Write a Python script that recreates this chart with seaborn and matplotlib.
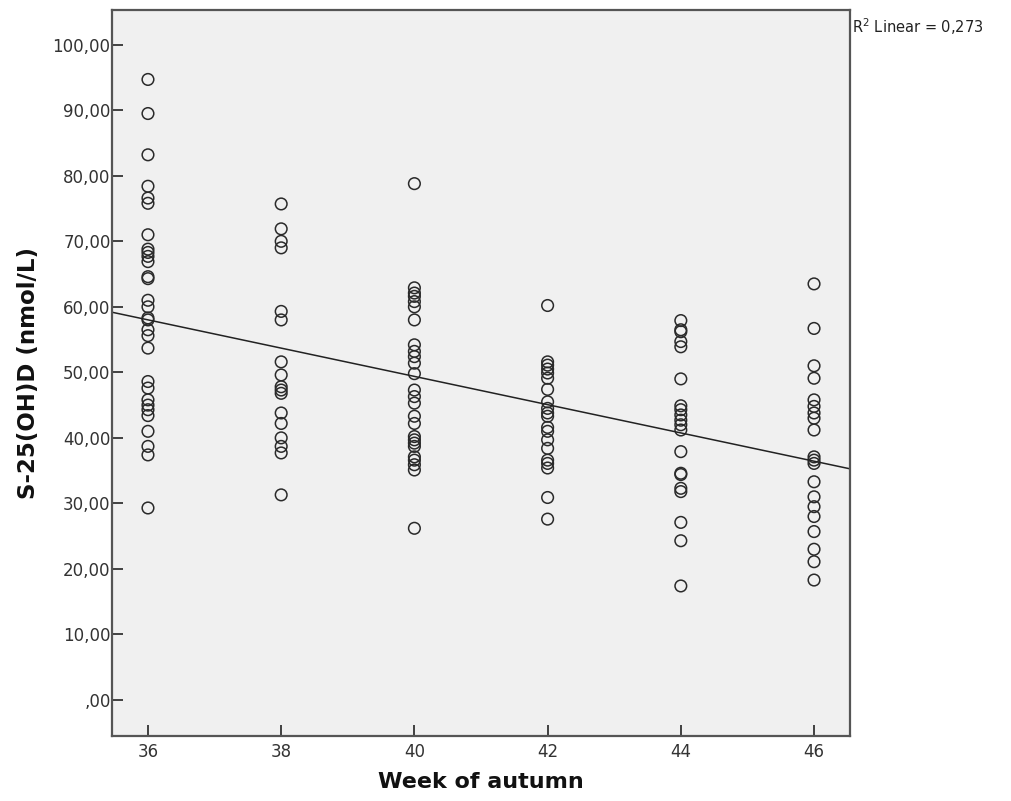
import numpy as np
import pandas as pd
import seaborn as sns
import matplotlib.pyplot as plt
from matplotlib.ticker import FuncFormatter

# Values, one list per week
week_36 = [94.7, 89.5, 83.2, 78.4, 76.6, 75.8, 71.0, 68.8, 68.3, 67.7, 66.9,
           64.6, 64.3, 61.0, 60.0, 58.3, 58.0, 56.5, 55.6, 53.7, 48.6, 47.6,
           45.8, 45.0, 44.3, 43.4, 41.0, 38.7, 37.4, 29.3]
week_38 = [75.7, 71.9, 70.0, 69.0, 59.3, 58.0, 51.6, 49.6, 47.8, 47.3, 46.8,
           43.8, 42.2, 40.0, 38.7, 37.7, 31.3]
week_40 = [78.8, 62.9, 62.1, 61.6, 60.8, 60.0, 58.0, 54.2, 53.2, 52.4, 51.4,
           49.8, 47.3, 46.3, 45.3, 43.3, 42.2, 40.2, 39.7, 39.2, 38.7, 37.1,
           36.6, 35.9, 35.1, 26.2]
week_42 = [60.2, 51.6, 51.1, 50.5, 49.9, 49.1, 47.4, 45.5, 44.5, 43.8, 43.3,
           41.6, 41.0, 39.7, 38.4, 36.6, 36.1, 35.4, 30.9, 27.6]
week_44 = [57.9, 56.5, 56.2, 54.7, 53.9, 49.0, 44.9, 44.3, 43.5, 42.7, 42.0,
           41.2, 37.9, 34.6, 34.4, 32.3, 31.8, 27.1, 24.3, 17.4]
week_46 = [63.5, 56.7, 51.0, 49.1, 45.8, 44.8, 43.8, 43.0, 41.2, 37.1, 36.6,
           36.1, 33.3, 31.0, 29.5, 28.0, 25.7, 23.0, 21.1, 18.3]

weeks = [36, 38, 40, 42, 44, 46]
columns = [week_36, week_38, week_40, week_42, week_44, week_46]
y_ticks = [0, 10, 20, 30, 40, 50, 60, 70, 80, 90, 100]

df = pd.DataFrame({
    'week': np.concatenate([[w] * len(c) for w, c in zip(weeks, columns)]),
    'vitd': np.concatenate(columns),
})

sns.set_style('white')
plt.rcParams['font.family'] = ['DejaVu Sans']

fig = plt.figure(figsize=(10.12, 8.01), dpi=100)
ax = fig.add_axes([112 / 1012, 65 / 801, 738 / 1012, 726 / 801])
ax.set_facecolor('#f0f0f0')

ax.set_xlim(35.46, 46.54)
ax.set_ylim(-5.5, 105.3)

sns.scatterplot(data=df, x='week', y='vitd', ax=ax, s=70,
                facecolor='none', edgecolor='#2a2a2a', linewidth=1.1)
sns.regplot(data=df, x='week', y='vitd', ax=ax, scatter=False, ci=None,
            truncate=False, line_kws={'color': '#222222', 'linewidth': 1.1})

ax.set_xticks(weeks)
ax.set_yticks(y_ticks)
ax.yaxis.set_major_formatter(FuncFormatter(
    lambda v, p: ',00' if v == 0 else f'{v:.2f}'.replace('.', ',')))
# seaborn's white style hides ticks, turn them back on (drawn inward)
ax.tick_params(axis='both', bottom=True, left=True, direction='in', length=8,
               width=1.3, color='#333333', labelsize=12, labelcolor='#333333',
               pad=1)
ax.tick_params(axis='x', pad=5)

for s in ax.spines.values():
    s.set_color('#555555')
    s.set_linewidth(1.6)

ax.set_xlabel('Week of autumn', fontsize=16, fontweight='bold', color='#111111')
ax.set_ylabel('S-25(OH)D (nmol/L)', fontsize=16.5, fontweight='bold', color='#111111')
ax.xaxis.set_label_coords(0.5, -0.050)
ax.yaxis.set_label_coords(-0.098, 0.5)

fig.text(852 / 1012, 1 - 27 / 801, 'R$^2$ Linear = 0,273', fontsize=10.5,
         color='#222222', va='center')

fig.savefig('out.png', dpi=100)
